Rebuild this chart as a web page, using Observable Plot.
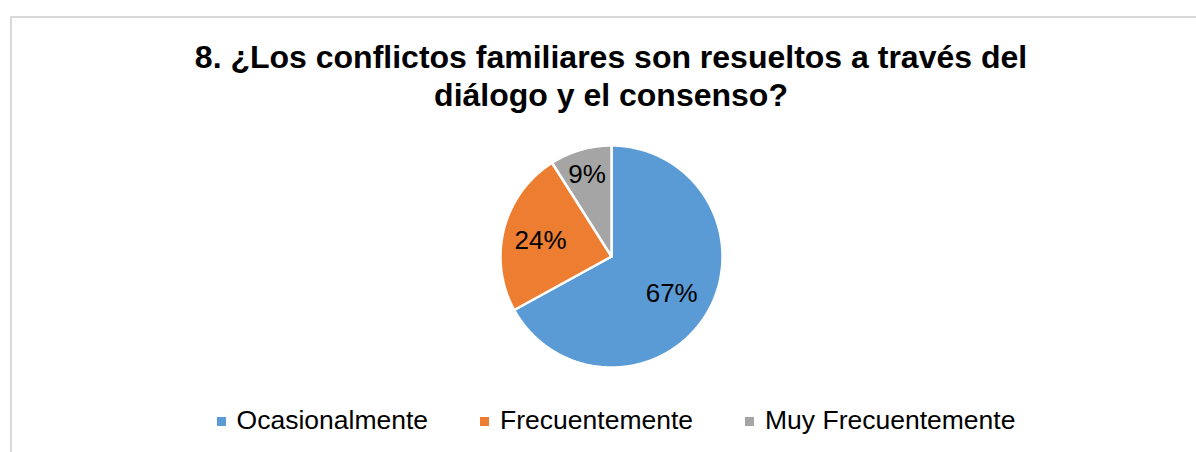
<!DOCTYPE html>
<html>
<head>
<meta charset="utf-8">
<script src="https://cdn.jsdelivr.net/npm/d3@7"></script>
<script src="https://cdn.jsdelivr.net/npm/@observablehq/plot@0.6"></script>
<style>
  html, body { margin: 0; padding: 0; background: #fff; }
  body { width: 1196px; height: 452px; position: relative; overflow: hidden; font-family: "Liberation Sans", Arial, sans-serif; }
  #frame { position: absolute; left: 10px; top: 16px; width: 1190px; height: 440px; border-top: 2px solid #d9d9d9; border-left: 2px solid #d9d9d9; }
  #title { position: absolute; left: 0; top: 38px; width: 1222px; text-align: center; font-weight: bold; font-size: 32px; line-height: 38px; color: #000; }
  #chart { position: absolute; left: 498px; top: 143px; }
  #legend { position: absolute; left: 0; top: 405px; width: 1232px; display: flex; justify-content: center; font-size: 26.5px; color: #000; }
  .item { display: flex; align-items: center; margin: 0 26px; }
  .sw { width: 9px; height: 9px; margin-right: 11px; margin-top: 2px; }
</style>
</head>
<body>
<div id="frame"></div>
<div id="title"></div>
<div id="chart"></div>
<div id="legend"></div>
<script>
const titleLines = ["8. ¿Los conflictos familiares son resueltos a través del", "diálogo y el consenso?"];
const categories = ["Ocasionalmente", "Frecuentemente", "Muy Frecuentemente"];
const values = [67, 24, 9];
const colors = ["#5B9BD5", "#ED7D31", "#A5A5A5"];

document.getElementById("title").innerHTML = titleLines.join("<br>");

const data = categories.map((c, i) => ({category: c, value: values[i]}));
const arcs = d3.pie().sort(null).value(d => d.value)(data);

// polygon points for each slice (angles from d3.pie, clockwise from top)
const pts = [];
arcs.forEach(a => {
  const c = a.data.category;
  pts.push({category: c, x: 0, y: 0});
  const n = Math.max(2, Math.ceil((a.endAngle - a.startAngle) / 0.01));
  for (let k = 0; k <= n; k++) {
    const t = a.startAngle + (a.endAngle - a.startAngle) * k / n;
    pts.push({category: c, x: Math.sin(t), y: Math.cos(t)});
  }
  pts.push({category: c, x: 0, y: 0});
});

const labelR = [0.63, 0.66, 0.79];
const labels = arcs.map((a, i) => {
  const m = (a.startAngle + a.endAngle) / 2;
  return {text: Math.round(a.data.value / d3.sum(values) * 100) + "%", x: labelR[i] * Math.sin(m), y: labelR[i] * Math.cos(m)};
});

const plot = Plot.plot({
  width: 226, height: 226, margin: 2,
  x: {domain: [-1, 1], axis: null},
  y: {domain: [-1, 1], axis: null},
  color: {domain: categories, range: colors},
  style: {background: "transparent", overflow: "visible"},
  marks: [
    Plot.line(pts, {x: "x", y: "y", z: "category", fill: "category", stroke: "white", strokeWidth: 2.5, strokeLinejoin: "miter", curve: "linear"}),
    Plot.text(labels, {x: "x", y: "y", text: "text", dy: 2, fontSize: 26, fill: "black", fontFamily: "Liberation Sans, Arial, sans-serif"})
  ]
});
document.getElementById("chart").appendChild(plot);

const legend = document.getElementById("legend");
categories.forEach((c, i) => {
  const it = document.createElement("div");
  it.className = "item";
  it.innerHTML = `<span class="sw" style="background:${colors[i]}"></span><span>${c}</span>`;
  legend.appendChild(it);
});
</script>
</body>
</html>
